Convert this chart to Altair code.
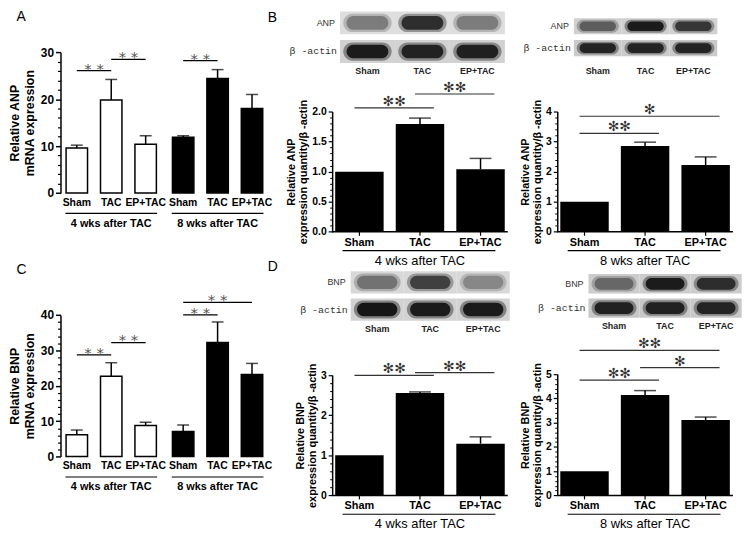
import altair as alt
import pandas as pd

FONT = "Liberation Sans"
KX, KY = 0.985, 0.98

treatments = ["Sham", "TAC", "EP+TAC"]
weeks = ["4 wks after TAC", "8 wks after TAC"]
ACTIN = "β -actin"

# ---- Panel A: ANP mRNA (mean, SEM) ----
anp_mrna_4wk = [9.6, 19.8, 10.4]
anp_mrna_4wk_sem = [0.6, 4.4, 1.8]
anp_mrna_8wk = [11.9, 24.4, 18.0]
anp_mrna_8wk_sem = [0.3, 1.9, 3.0]
anp_mrna_sig_week = [weeks[0], weeks[0], weeks[1]]
anp_mrna_sig_from = ["Sham", "TAC", "Sham"]
anp_mrna_sig_to = ["TAC", "EP+TAC", "TAC"]
anp_mrna_sig_level = [26.1, 28.5, 28.2]
anp_mrna_sig_mark = ["**", "**", "**"]

# ---- Panel C: BNP mRNA ----
bnp_mrna_4wk = [6.2, 22.7, 8.8]
bnp_mrna_4wk_sem = [1.3, 3.8, 0.9]
bnp_mrna_8wk = [7.1, 32.2, 23.2]
bnp_mrna_8wk_sem = [1.8, 5.8, 3.1]
bnp_mrna_sig_week = [weeks[0], weeks[0], weeks[1], weeks[1]]
bnp_mrna_sig_from = ["Sham", "TAC", "Sham", "Sham"]
bnp_mrna_sig_to = ["TAC", "EP+TAC", "TAC", "EP+TAC"]
bnp_mrna_sig_level = [28.7, 32.2, 40.0, 43.5]
bnp_mrna_sig_mark = ["**", "**", "**", "**"]

# ---- Panel B: ANP protein / beta-actin ----
anp_4wk_ratio = [1.0, 1.79, 1.04]
anp_4wk_sem = [0.0, 0.10, 0.18]
anp_4wk_sig_from = ["Sham", "TAC"]
anp_4wk_sig_to = ["TAC", "EP+TAC"]
anp_4wk_sig_level = [2.06, 2.29]
anp_4wk_sig_mark = ["✻✻", "✻✻"]

anp_8wk_ratio = [1.0, 2.85, 2.22]
anp_8wk_sem = [0.0, 0.13, 0.27]
anp_8wk_sig_from = ["Sham", "Sham"]
anp_8wk_sig_to = ["TAC", "EP+TAC"]
anp_8wk_sig_level = [3.27, 3.84]
anp_8wk_sig_mark = ["✻✻", "✻"]

# ---- Panel D: BNP protein / beta-actin ----
bnp_4wk_ratio = [1.0, 2.55, 1.29]
bnp_4wk_sem = [0.0, 0.03, 0.17]
bnp_4wk_sig_from = ["Sham", "TAC"]
bnp_4wk_sig_to = ["TAC", "EP+TAC"]
bnp_4wk_sig_level = [2.99, 3.06]
bnp_4wk_sig_mark = ["✻✻", "✻✻"]

bnp_8wk_ratio = [1.0, 4.14, 3.11]
bnp_8wk_sem = [0.0, 0.18, 0.12]
bnp_8wk_sig_from = ["Sham", "TAC", "Sham"]
bnp_8wk_sig_to = ["TAC", "EP+TAC", "EP+TAC"]
bnp_8wk_sig_level = [4.75, 5.27, 5.98]
bnp_8wk_sig_mark = ["✻✻", "✻", "✻✻"]

# ---- Western blot band darkness (0 = blank, 1 = black) ----
blot_anp_4wk = [0.45, 0.85, 0.45]
blot_actin_anp_4wk = [0.95, 0.92, 0.93]
blot_anp_8wk = [0.6, 0.95, 0.8]
blot_actin_anp_8wk = [0.9, 0.9, 0.9]
blot_bnp_4wk = [0.5, 0.75, 0.4]
blot_actin_bnp_4wk = [0.97, 0.95, 0.95]
blot_bnp_8wk = [0.55, 0.95, 0.85]
blot_actin_bnp_8wk = [0.92, 0.92, 0.9]


def minor_values(ymax, major, n=4):
    st = major / (n + 1)
    k = int(round(ymax / st))
    return [round(i * st, 4) for i in range(k + 1) if i % (n + 1) != 0]


def letter_layer(letter, x, y):
    return alt.Chart(pd.DataFrame({"t": [letter]})).mark_text(
        align="left", baseline="middle", font=FONT, fontSize=14, color="black"
    ).encode(x=alt.value(x), y=alt.value(y), text="t:N")


def mrna_panel(letter, ytitle, m4, s4, m8, s8, sw, sf, st, sl, sm,
               ymax, ystep, top_ref, bottom_ref, letter_y):
    W = 228 * KX
    PW = 213 * KX
    H = bottom_ref * KY
    TOP = top_ref * KY
    pi_g, po_g = 0.138, 0.046
    pi_t, po_t = 0.377, 0.02
    step_g = PW / (2 - pi_g + 2 * po_g)
    bw_g = step_g * (1 - pi_g)
    step_t = bw_g / (3 - pi_t + 2 * po_t)

    df = pd.DataFrame({
        "week": [weeks[0]] * 3 + [weeks[1]] * 3,
        "treatment": treatments * 2,
        "mean": m4 + m8,
        "sem": s4 + s8,
    })
    df["top"] = df["mean"] + df["sem"]

    xs = alt.Scale(domain=weeks, range=[0, PW], paddingInner=pi_g, paddingOuter=po_g)
    xo = alt.Scale(domain=treatments, paddingInner=pi_t, paddingOuter=po_t)
    ys = alt.Scale(domain=[0, ymax], range=[H, TOP], nice=False, zero=True)
    X = alt.X("week:N", scale=xs, axis=None)
    XO = alt.XOffset("treatment:N", scale=xo)

    def Y(f):
        return alt.Y(f, scale=ys, axis=None)

    base = alt.Chart(df)
    bars = base.mark_bar(stroke="black", strokeWidth=1.5).encode(
        x=alt.X("week:N", scale=xs, axis=alt.Axis(
            title=None, labels=False, ticks=False, domainColor="black", domainWidth=1.5)),
        xOffset=XO,
        y=alt.Y("mean:Q", scale=ys, axis=alt.Axis(
            values=list(range(0, ymax + 1, ystep)), title=ytitle,
            titleFontSize=12.5, titleFontWeight="bold", titleLineHeight=15, titlePadding=4,
            titleColor="black", labelFontSize=12, labelFontWeight="bold", labelColor="black",
            tickSize=5, tickWidth=1.5, tickColor="black", domainWidth=1.5, domainColor="black",
            labelPadding=2, grid=False)),
        fill=alt.Fill("week:N", scale=alt.Scale(domain=weeks, range=["white", "black"]), legend=None),
    )
    minor = base.mark_point(opacity=0).encode(
        x=X,
        y=alt.Y("mean:Q", scale=ys, axis=alt.Axis(
            orient="left", values=minor_values(ymax, ystep), labels=False, domain=False,
            title=None, tickSize=3, tickWidth=1.2, tickColor="black", grid=False)),
    )
    withsem = base.transform_filter("datum.sem > 0")
    err = withsem.mark_rule(color="black", strokeWidth=1.5).encode(
        x=X, xOffset=XO, y=Y("mean:Q"), y2="top:Q")
    cap = withsem.mark_tick(color="black", thickness=1.5, size=12, orient="horizontal").encode(
        x=X, xOffset=XO, y=Y("top:Q"))

    rows = []
    for i, (w, f, t, l) in enumerate(zip(sw, sf, st, sl)):
        rows.append(dict(id=i, week=w, treatment=f, level=l))
        rows.append(dict(id=i, week=w, treatment=t, level=l))
    sig_lines = alt.Chart(pd.DataFrame(rows)).mark_line(color="black", strokeWidth=1.3).encode(
        x=X, xOffset=XO, y=Y("level:Q"), detail="id:N")
    stars = []
    for w, f, t, l, m in zip(sw, sf, st, sl, sm):
        dx = (treatments.index(t) - treatments.index(f)) * step_t / 2
        stars.append(alt.Chart(pd.DataFrame({"week": [w], "treatment": [f], "level": [l], "m": [" ".join(m)]}))
                     .mark_text(dx=dx, dy=6, font="DejaVu Sans", fontSize=15, color="#555555", baseline="bottom")
                     .encode(x=X, xOffset=XO, y=Y("level:Q"), text="m:N"))

    tlabels = base.mark_text(font=FONT, fontSize=10.5, fontWeight="bold", baseline="top", color="black").encode(
        x=X, xOffset=XO, y=alt.value(H + 5), text="treatment:N")
    gdf = pd.DataFrame({"week": weeks})
    gline = alt.Chart(gdf).mark_rect(color="black").encode(
        x=X, y=alt.value(H + 20), y2=alt.value(H + 21.2))
    glabel = alt.Chart(gdf).mark_text(font=FONT, fontSize=11, fontWeight="bold", baseline="middle", color="black").encode(
        x=X, y=alt.value(H + 31), text="week:N")

    return alt.layer(bars, minor, err, cap, sig_lines, *stars, tlabels, gline, glabel,
                     letter_layer(letter, -45 * KX, letter_y)
                     ).resolve_axis(y="independent").properties(width=W, height=H)


def wb_panel(letter, protein, ratio, sem, sf, st, sl, sm, ymax, ystep, yfmt,
             top_ref, bottom_ref, week_label, blot_p, blot_a,
             bx0, bx1, by0, by1, bgap, label_y, bg_p, bg_a, letter_y):
    W = 180 * KX
    H = bottom_ref * KY
    TOP = top_ref * KY
    pi, po = 0.2, 0.05
    step = W / (3 - pi + 2 * po)
    half = (po + (1 - pi) / 2) * step
    xo_l, xo_r = -5, 14

    df = pd.DataFrame({"treatment": treatments, "ratio": ratio, "sem": sem})
    df["top"] = df["ratio"] + df["sem"]
    xs = alt.Scale(domain=treatments, paddingInner=pi, paddingOuter=po)
    ys = alt.Scale(domain=[0, ymax], range=[H, TOP], nice=False, zero=True)
    X = alt.X("treatment:N", scale=xs, axis=None)

    def Y(f):
        return alt.Y(f, scale=ys, axis=None)

    nmaj = int(round(ymax / ystep))
    majors = [round(i * ystep, 4) for i in range(nmaj + 1)]
    base = alt.Chart(df)
    bars = base.mark_bar(color="black").encode(
        x=X,
        y=alt.Y("ratio:Q", scale=ys, axis=alt.Axis(
            values=majors, format=yfmt, title=[f"Relative {protein}", "expression quantity/β -actin"],
            titleFontSize=11, titleFontWeight="bold", titleLineHeight=12, titlePadding=3,
            titleColor="black", labelFontSize=10.5, labelFontWeight="bold", labelColor="black",
            tickSize=4, tickWidth=1.2, tickColor="black", domainWidth=1.5, domainColor="black",
            labelPadding=2, grid=False)),
    )
    minor = base.mark_point(opacity=0).encode(
        x=X,
        y=alt.Y("ratio:Q", scale=ys, axis=alt.Axis(
            orient="left", values=minor_values(ymax, ystep), labels=False, domain=False,
            title=None, tickSize=2.5, tickWidth=1, tickColor="black", grid=False)),
    )
    # category axis along the bottom
    gdf = pd.DataFrame({"start": ["Sham"], "end": ["EP+TAC"], "mid": ["TAC"], "label": [week_label]})
    xdomain = alt.Chart(gdf).mark_rule(color="black", strokeWidth=1.5, xOffset=-half, x2Offset=half).encode(
        x=alt.X("start:N", scale=xs, axis=None), x2="end:N", y=alt.value(H))
    xticks = base.mark_rule(color="black", strokeWidth=1.2).encode(
        x=X, y=alt.value(H), y2=alt.value(H + 4))
    xlabels = base.mark_text(font=FONT, fontSize=11, fontWeight="bold", baseline="top", color="black").encode(
        x=X, y=alt.value(H + 5), text="treatment:N")

    withsem = base.transform_filter("datum.sem > 0")
    err = withsem.mark_rule(color="black", strokeWidth=1.5).encode(x=X, y=Y("ratio:Q"), y2="top:Q")
    cap = withsem.mark_tick(color="black", thickness=1.5, size=22, orient="horizontal").encode(x=X, y=Y("top:Q"))

    sdf = pd.DataFrame({"from": sf, "to": st, "level": sl, "m": sm})
    sig_lines = alt.Chart(sdf).mark_rule(color="#333333", strokeWidth=1.2, xOffset=xo_l, x2Offset=xo_r).encode(
        x=alt.X("from:N", scale=xs, axis=None), x2="to:N", y=Y("level:Q"))
    stars = []
    for f, t, l, m in zip(sf, st, sl, sm):
        dx = (treatments.index(t) - treatments.index(f)) * step / 2 + (xo_l + xo_r) / 2
        stars.append(alt.Chart(pd.DataFrame({"treatment": [f], "level": [l], "m": [m]}))
                     .mark_text(dx=dx, dy=1, font="DejaVu Sans", fontSize=14, color="#333333", baseline="bottom")
                     .encode(x=X, y=Y("level:Q"), text="m:N"))
    gline = alt.Chart(gdf).mark_rule(color="black", strokeWidth=1.2, xOffset=-17, x2Offset=15).encode(
        x=alt.X("start:N", scale=xs, axis=None), x2="end:N", y=alt.value(H + 19))
    glabel = alt.Chart(gdf).mark_text(font=FONT, fontSize=13, baseline="middle", color="black").encode(
        x=alt.X("mid:N", scale=xs, axis=None), y=alt.value(H + 29), text="label:N")

    plot = alt.layer(bars, minor, xdomain, xticks, xlabels, err, cap, sig_lines, *stars,
                     gline, glabel).resolve_axis(y="independent")

    # western blot image strips
    strips = [protein, ACTIN]
    bdf = pd.DataFrame({"lane": treatments * 2, "strip": [protein] * 3 + [ACTIN] * 3, "dark": blot_p + blot_a})
    sy = (by1 - by0 + bgap) / 2.0
    bxs = alt.Scale(domain=treatments, range=[bx0 * KX, bx1 * KX], paddingInner=0, paddingOuter=0)
    bys = alt.Scale(domain=strips, range=[by0 * KY, by1 * KY], paddingInner=bgap / sy, paddingOuter=0)
    BX = alt.X("lane:N", scale=bxs, axis=None)
    BY = alt.Y("strip:N", scale=bys, axis=None)
    bchart = alt.Chart(bdf)
    bg = bchart.mark_rect().encode(
        x=BX, y=BY, color=alt.Color("strip:N", scale=alt.Scale(domain=strips, range=[bg_p, bg_a]), legend=None))
    dark_scale = alt.Scale(domain=[0, 1], range=["#e4e4e4", "#000000"])
    halo = bchart.mark_rect(width=alt.RelativeBandSize(0.88), height=alt.RelativeBandSize(0.8),
                            cornerRadius=10, opacity=0.4).encode(
        x=BX, y=BY, fill=alt.Fill("dark:Q", scale=dark_scale, legend=None))
    core = bchart.mark_rect(width=alt.RelativeBandSize(0.76), height=alt.RelativeBandSize(0.6),
                            cornerRadius=8, opacity=0.9).encode(
        x=BX, y=BY, fill=alt.Fill("dark:Q", scale=dark_scale, legend=None))
    sdf2 = pd.DataFrame({"strip": strips})
    plab = alt.Chart(sdf2).transform_filter(alt.datum.strip == protein).mark_text(
        align="right", baseline="middle", font=FONT, fontSize=9, color="#333333").encode(
        x=alt.value(bx0 * KX - 5), y=BY, text="strip:N")
    alab = alt.Chart(sdf2).transform_filter(alt.datum.strip == ACTIN).mark_text(
        align="right", baseline="middle", font="Liberation Mono", fontSize=10, color="#333333").encode(
        x=alt.value(bx0 * KX - 3), y=BY, text="strip:N")
    llab = alt.Chart(pd.DataFrame({"lane": treatments})).mark_text(
        baseline="middle", font="Liberation Sans Narrow, Liberation Sans", fontSize=9, fontWeight="bold",
        color="#222222").encode(x=BX, y=alt.value(label_y * KY), text="lane:N")
    parts = [bg, halo, core, plab, alab, llab]
    if letter:
        parts.append(letter_layer(letter, -66 * KX, letter_y))
    blot = alt.layer(*parts).resolve_scale(color="independent", fill="independent")

    return alt.layer(plot, blot).resolve_scale(x="independent", y="independent").properties(width=W, height=H)


A = mrna_panel("A", ["Relative ANP", "mRNA expression"], anp_mrna_4wk, anp_mrna_4wk_sem,
               anp_mrna_8wk, anp_mrna_8wk_sem, anp_mrna_sig_week, anp_mrna_sig_from,
               anp_mrna_sig_to, anp_mrna_sig_level, anp_mrna_sig_mark,
               30, 10, 42, 187, 6)
C = mrna_panel("C", ["Relative BNP", "mRNA expression"], bnp_mrna_4wk, bnp_mrna_4wk_sem,
               bnp_mrna_8wk, bnp_mrna_8wk_sem, bnp_mrna_sig_week, bnp_mrna_sig_from,
               bnp_mrna_sig_to, bnp_mrna_sig_level, bnp_mrna_sig_mark,
               40, 10, 46, 192, 0)
B1 = wb_panel("B", "ANP", anp_4wk_ratio, anp_4wk_sem, anp_4wk_sig_from, anp_4wk_sig_to,
              anp_4wk_sig_level, anp_4wk_sig_mark, 2.0, 0.5, ".1f", 103, 227, weeks[0],
              blot_anp_4wk, blot_actin_anp_4wk, 8, 177, 0, 53, 6, 61, "#dedede", "#d2d2d2", 7)
B2 = wb_panel(None, "ANP", anp_8wk_ratio, anp_8wk_sem, anp_8wk_sig_from, anp_8wk_sig_to,
              anp_8wk_sig_level, anp_8wk_sig_mark, 4, 1, "d", 103, 227, weeks[1],
              blot_anp_8wk, blot_actin_anp_8wk, 17, 164, 7, 46, 6, 61, "#d0d0d0", "#cacaca", 0)
D1 = wb_panel("D", "BNP", bnp_4wk_ratio, bnp_4wk_sem, bnp_4wk_sig_from, bnp_4wk_sig_to,
              bnp_4wk_sig_level, bnp_4wk_sig_mark, 3, 1, "d", 108, 232, weeks[0],
              blot_bnp_4wk, blot_actin_bnp_4wk, 19, 182, 1, 52, 5, 61, "#d8d8d8", "#d2d2d2", -3)
D2 = wb_panel(None, "BNP", bnp_8wk_ratio, bnp_8wk_sem, bnp_8wk_sig_from, bnp_8wk_sig_to,
              bnp_8wk_sig_level, bnp_8wk_sig_mark, 5, 1, "d", 107, 232, weeks[1],
              blot_bnp_8wk, blot_actin_bnp_8wk, 32, 189, 4, 49, 5, 57, "#cccccc", "#c8c8c8", 0)

chart = alt.concat(
    A, B1, B2, C, D1, D2,
    columns=3, align="each", bounds="flush",
    spacing={"row": 39 * KY, "column": 50 * KX},
).properties(padding=0).configure_view(stroke=None).configure_axis(
    labelFont=FONT, titleFont=FONT, grid=False)

chart.save("out.html", embed_options={"renderer": "svg", "actions": False})
